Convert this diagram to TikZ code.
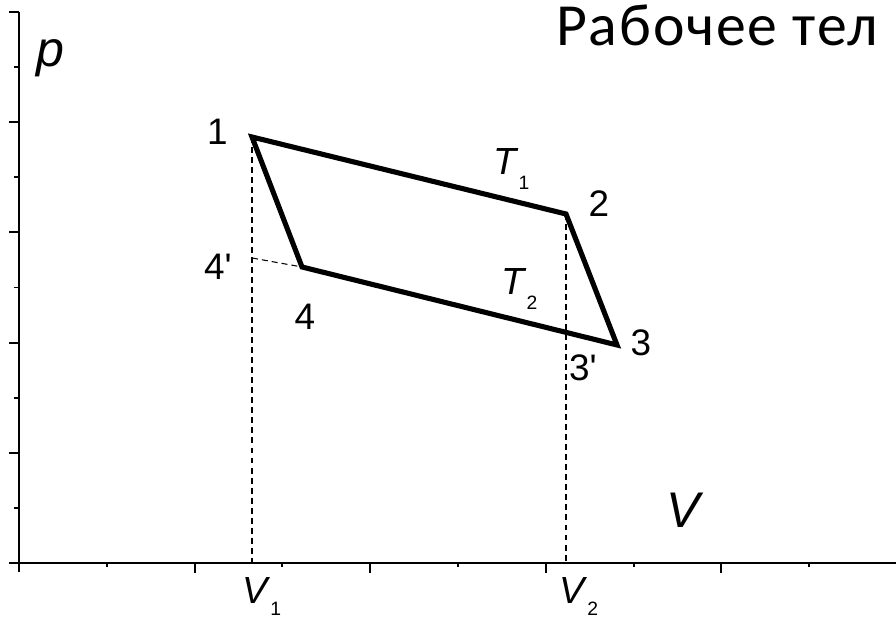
\documentclass[tikz,border=0pt]{standalone}
\usepackage{fontspec}
\setmainfont{Liberation Sans}
\newfontfamily\titlefont[LetterSpace=3]{Carlito}
\begin{document}
\begin{tikzpicture}[
    cycleline/.style={line width=2.9pt, line join=miter},
    axisline/.style={line width=1.1pt},
    guideline/.style={line width=0.6pt, dash pattern=on 3.4pt off 2.3pt},
    ptlabel/.style={inner sep=0pt, font=\fontsize{21}{21}\selectfont},
    sublabel/.style={inner sep=0pt, anchor=base west, font=\fontsize{21.5}{22}\selectfont},
    axislabel/.style={inner sep=0pt, font=\fontsize{28.5}{29}\selectfont\itshape},
  ]
  \useasboundingbox (-0.38,-1.16) rectangle (17.54,11.26);

  % axes
  \coordinate (o) at (0,0);
  \draw[axisline] (-0.2,0) -- (17.54,0);
  \draw[axisline] (0,-0.18) -- (0,11.02);
  \foreach \k in {1,...,4} {
      \draw[axisline] (3.512*\k, 0) -- (3.512*\k, -0.2);
    }
  \foreach \k in {1,...,5} {
      \draw[axisline] (3.512*\k-1.756, 0) -- (3.512*\k-1.756, -0.08);
      \draw[axisline] (0, 2.204*\k) -- (-0.2, 2.204*\k);
      \draw[axisline] (0, 2.204*\k-1.102) -- (-0.1, 2.204*\k-1.102);
    }

  \node[axislabel] (pl) at (0.62,10.09) {p};
  \node[axislabel] (vl) at (13.29,1.06) {V};

  % cycle
  \coordinate (p1) at (4.66,8.52);
  \coordinate (p2) at (10.94,6.98);
  \coordinate (p3) at (11.96,4.36);
  \coordinate (p4) at (5.66,5.92);
  \coordinate (p4s) at (4.66,6.10);

  \draw[guideline] (p1) -- (p1 |- o);
  \draw[guideline] (p2) -- (p2 |- o);
  \draw[guideline] (p4s) -- (p4);
  \draw[cycleline] (p1) -- (p2) -- (p3) -- (p4) -- cycle;

  \node[ptlabel] (l1) at (3.97,8.63) {1};
  \node[ptlabel] (l2) at (11.6,7.19) {2};
  \node[ptlabel] (l3) at (12.44,4.41) {3};
  \node[ptlabel] (l4) at (5.72,4.93) {4};
  \node[ptlabel] (l4s) at (3.98,5.92) {4\textquotesingle};
  \node[ptlabel] (l3s) at (11.28,3.9) {3\textquotesingle};

  \node[sublabel] (t1) at (9.48,7.76) {\textit{T}\raisebox{-8.5pt}{\fontsize{11}{11}\selectfont 1}};
  \node[sublabel] (t2) at (9.64,5.36) {\textit{T}\raisebox{-8.5pt}{\fontsize{11}{11}\selectfont 2}};
  \node[sublabel] (v1) at (4.46,-0.82) {\textit{V}\raisebox{-6.6pt}{\fontsize{11}{11}\selectfont 1}};
  \node[sublabel] (v2) at (10.80,-0.82) {\textit{V}\raisebox{-6.6pt}{\fontsize{11}{11}\selectfont 2}};

  \node[inner sep=0pt, anchor=base west, font=\titlefont\fontsize{34}{35}\selectfont] (title) at (10.74,10.34) {Рабочее тел};
\end{tikzpicture}
\end{document}
